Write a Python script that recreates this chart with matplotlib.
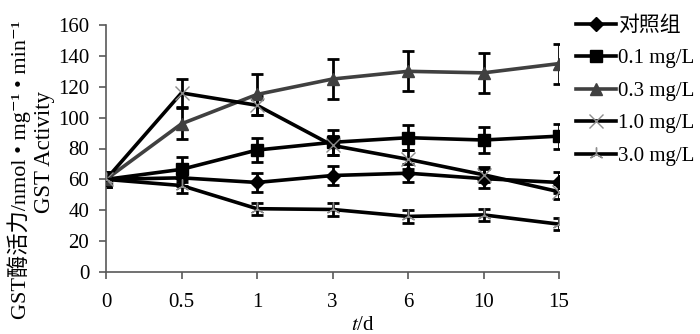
import matplotlib
matplotlib.use('Agg')
import matplotlib.pyplot as plt

plt.rcParams['font.family'] = ['Liberation Serif', 'Noto Sans CJK SC', 'DejaVu Serif']
plt.rcParams['mathtext.fontset'] = 'stix'

days = ['0', '0.5', '1', '3', '6', '10', '15']

control = [60, 61, 58, 62.5, 64, 60.5, 58]
control_err = [5, 5, 6, 6, 6, 6, 7]
c01 = [60, 66.5, 79, 84, 87, 85.5, 88]
c01_err = [5, 8, 8, 8, 8, 8.5, 8]
c03 = [60, 96, 115, 125, 130, 129, 135]
c03_err = [5, 10, 13, 13, 13, 13, 13]
c10 = [60, 116, 108, 82, 73, 63, 52]
c10_err = [5, 9, 6, 6, 6, 5, 5]
c30 = [60, 56, 41, 40.5, 36, 37, 31]
c30_err = [5, 5, 4, 4, 4, 4, 4]

series = [
    ('对照组', control, control_err, 'black', 'D', 7, 'black', 1),
    ('0.1 mg/L', c01, c01_err, 'black', 's', 9, 'black', 1),
    ('0.3 mg/L', c03, c03_err, '#404040', '^', 9, '#404040', 1),
    ('1.0 mg/L', c10, c10_err, 'black', 'x', 10, '#8c8c8c', 1),
    ('3.0 mg/L', c30, c30_err, 'black', (3, 2, 0), 10, '#8c8c8c', 1),
]

fig = plt.figure(figsize=(7, 3.34), dpi=100)
ax = fig.add_axes([106 / 700, 1 - 272 / 334, (559 - 106) / 700, (272 - 25) / 334])

x = list(range(len(days)))
for label, vals, err, color, marker, ms, mcolor, mew in series:
    ax.errorbar(x, vals, yerr=err, fmt='none', ecolor='black',
                elinewidth=2, capsize=4, capthick=2, zorder=2)
    ax.plot(x, vals, color=color, lw=2.6, marker=marker, ms=ms,
            mfc=mcolor, mec=mcolor, mew=mew, label=label, zorder=3)

ax.set_xlim(0, 6)
ax.set_ylim(0, 160)
ax.set_xticks(x)
ax.set_xticklabels(days)
ax.set_yticks(range(0, 161, 20))
ax.tick_params(axis='both', labelsize=15, direction='out', length=5,
               width=1.2, color='#595959')
ax.tick_params(axis='x', pad=10)
ax.tick_params(axis='y', pad=7)
for side in ('top', 'right'):
    ax.spines[side].set_visible(False)
for side in ('left', 'bottom'):
    ax.spines[side].set_color('#595959')
    ax.spines[side].set_linewidth(1.2)

fig.text(363 / 700, 1 - 325 / 334, r'$t$/d', fontsize=15, ha='center', va='center')
fig.text(19 / 700, 1 - 170 / 334,
         'GST酶活力/nmol • mg⁻¹ • min⁻¹',
         fontsize=16, rotation=90, ha='center', va='center')
fig.text(45 / 700, 1 - 152 / 334, 'GST Activity', fontsize=16.5,
         rotation=90, ha='center', va='center')

fig.legend(loc='upper left', bbox_to_anchor=(568 / 700, 1 - 8 / 334),
           frameon=False, fontsize=15, handlelength=1.9, handletextpad=0.1,
           labelspacing=0.62, borderaxespad=0)

fig.savefig('out.png', dpi=100)
